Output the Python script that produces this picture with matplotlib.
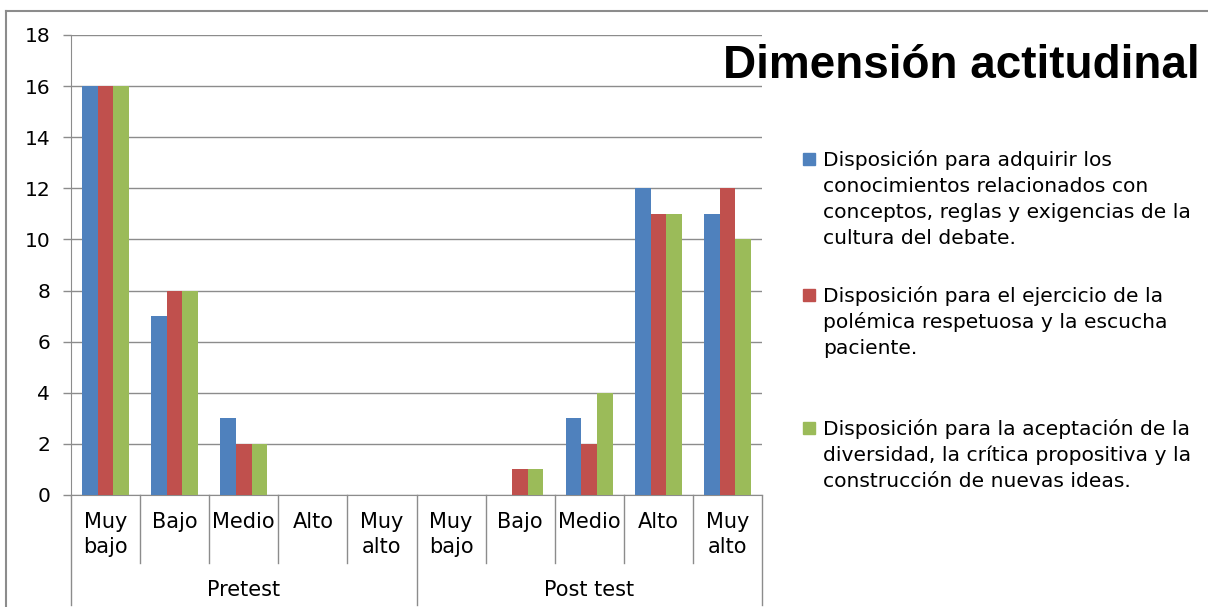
import numpy as np
import matplotlib.pyplot as plt
from matplotlib.lines import Line2D
from matplotlib.patches import Rectangle

# niveles por fase
niveles = ['Muy\nbajo', 'Bajo', 'Medio', 'Alto', 'Muy\nalto']
fases = ['Pretest', 'Post test']

adquirir = [16, 7, 3, 0, 0, 0, 0, 3, 12, 11]
polemica = [16, 8, 2, 0, 0, 0, 1, 2, 11, 12]
diversidad = [16, 8, 2, 0, 0, 0, 1, 4, 11, 10]

nombres = [
    ['Disposición para adquirir los', 'conocimientos relacionados con',
     'conceptos, reglas y exigencias de la', 'cultura del debate.'],
    ['Disposición para el ejercicio de la', 'polémica respetuosa y la escucha',
     'paciente.'],
    ['Disposición para la aceptación de la', 'diversidad, la crítica propositiva y la',
     'construcción de nuevas ideas.'],
]
colores = ['#4F81BD', '#C0504D', '#9BBB59']

plt.rcParams['font.family'] = ['DejaVu Sans']

W, H = 1208, 607
fig = plt.figure(figsize=(W / 100, H / 100), dpi=100)
ax = fig.add_axes([71 / W, 112 / H, 691 / W, 460 / H])

x = np.arange(len(adquirir))
w = 0.225
for i, serie in enumerate([adquirir, polemica, diversidad]):
    ax.bar(x + (i - 1) * w, serie, width=w, color=colores[i], zorder=3)

ax.set_xlim(-0.5, len(adquirir) - 0.5)
ax.set_ylim(0, 18)
ax.set_yticks(range(0, 19, 2))
ax.yaxis.grid(True, color='#8c8c8c', linewidth=1)
ax.set_axisbelow(True)
ax.tick_params(axis='y', length=6, width=1, color='#8c8c8c', pad=9, labelsize=14.5)
for s in ['top', 'right']:
    ax.spines[s].set_visible(False)
ax.spines['left'].set_color('#8c8c8c')
ax.spines['bottom'].set_color('#8c8c8c')

# etiquetas de categoria en dos niveles
ax.set_xticks(x)
ax.set_xticklabels(niveles * 2, fontsize=15, linespacing=1.35, va='top')
ax.tick_params(axis='x', length=0, pad=12)

trans = ax.get_xaxis_transform()
for b in np.arange(-0.5, len(adquirir), 1):
    largo = 0.24 if b in (-0.5, 4.5, 9.5) else 0.148
    ax.plot([b, b], [0, -largo], color='#8c8c8c', lw=1, transform=trans, clip_on=False)
for k, fase in enumerate(fases):
    ax.text(2 + 5 * k, -0.206, fase, transform=trans, ha='center', va='center', fontsize=15)

fig.text(723 / W, 1 - 66 / H, 'Dimensión actitudinal', family='Liberation Sans',
         fontsize=33, fontweight='bold', va='center', ha='left')

# leyenda a mano
bases = [166, 302, 435]
for c, lineas, yb in zip(colores, nombres, bases):
    fig.add_artist(Rectangle((803 / W, 1 - (yb - 1) / H), 12 / W, 12 / H,
                             color=c, transform=fig.transFigure))
    for j, txt in enumerate(lineas):
        fig.text(823 / W, 1 - (yb + 26 * j) / H, txt,
                 fontsize=14.6, va='baseline', ha='left')

# marco exterior
fig.add_artist(Line2D([6 / W, 6 / W], [0, 1 - 11 / H], color='#8c8c8c', lw=1.5))
fig.add_artist(Line2D([6 / W, 1], [1 - 11 / H, 1 - 11 / H], color='#8c8c8c', lw=1.5))

fig.savefig('out.png', dpi=100)
